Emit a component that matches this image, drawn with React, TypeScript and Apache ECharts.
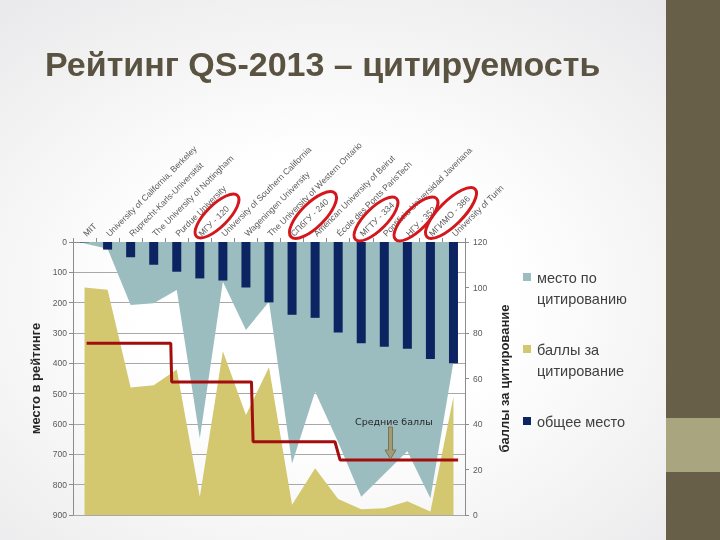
import React, { useEffect, useRef } from "react";
import * as echarts from "echarts";

const categories = [
  "MIT",
  "University of California, Berkeley",
  "Ruprecht-Karls-Universität",
  "The University of Nottingham",
  "Purdue University",
  "МГУ - 120",
  "University of Southern California",
  "Wageningen University",
  "The University of Western Ontario",
  "СПбГУ - 240",
  "American University of Beirut",
  "École des Ponts ParisTech",
  "МГТУ - 334",
  "Pontificia Universidad Javeriana",
  "НГУ - 352",
  "МГИМО - 386",
  "University of Turin",
];

// общее место (overall rank, left axis)
const overallRank = [1, 25, 50, 75, 98, 120, 127, 150, 199, 240, 250, 298, 334, 345, 352, 386, 400];
// место по цитированию (citation rank, left axis)
const citationRank = [5, 22, 208, 202, 158, 647, 131, 290, 197, 730, 494, 660, 840, 765, 690, 845, 395];
// баллы за цитирование (citation score, right axis)
const citationScore = [100, 99, 56, 57, 64, 8, 72, 44, 65, 4.5, 20.5, 7, 2.5, 3, 6, 1.5, 52];

// Средние баллы (hand-drawn step line: position in category units, value on right axis)
const avgX = [0.59, 4.24, 4.28, 7.74, 7.81, 11.36, 11.58, 16.7];
const avgY = [75.5, 75.5, 58.5, 58.5, 32.2, 32.2, 24.2, 24.2];

const leftTicks = { min: 0, max: 900, interval: 100 };
const rightTicks = { min: 0, max: 120, interval: 20 };

const COL_GRAY = "#9cbdc0";
const COL_YELLOW = "#d3c86f";
const COL_NAVY = "#0c2461";
const COL_RED = "#a30d0d";
const AXIS_COL = "#8c8c8c";
const LABEL_COL = "#595959";

export default function App() {
  const ref = useRef<HTMLDivElement>(null);

  useEffect(() => {
    if (!ref.current) return;
    const chart = echarts.init(ref.current, null, { renderer: "svg" });

    const ellipses = [
      { x: 217, y: 216, rx: 29, ry: 11 },
      { x: 313, y: 215, rx: 31, ry: 12 },
      { x: 376, y: 219, rx: 29, ry: 11 },
      { x: 416, y: 219, rx: 29, ry: 11 },
      { x: 451, y: 213, rx: 34, ry: 12 },
    ];

    const legendItems = [
      { name: "место по\nцитированию", color: COL_GRAY, y: 273 },
      { name: "баллы за\nцитирование", color: COL_YELLOW, y: 345 },
      { name: "общее место", color: COL_NAVY, y: 417 },
    ];

    const option: any = {
      animation: false,
      title: {
        text: "Рейтинг QS-2013 – цитируемость",
        left: 40,
        top: 42,
        textStyle: {
          fontFamily: "Liberation Sans",
          fontSize: 34,
          fontWeight: "bold",
          color: "#5a5341",
        },
      },
      grid: { left: 73, right: 255, top: 242, bottom: 25, containLabel: false },
      xAxis: [
        {
          type: "category",
          data: categories,
          position: "top",
          boundaryGap: true,
          axisLine: { show: true, onZero: false, lineStyle: { color: AXIS_COL, width: 1 } },
          axisTick: { show: true, length: 4, lineStyle: { color: AXIS_COL } },
          axisLabel: {
            rotate: -45,
            interval: 0,
            fontSize: 8.6,
            margin: 7,
            color: LABEL_COL,
            fontFamily: "Liberation Sans",
          },
          splitLine: { show: false },
        },
        { type: "value", min: 0, max: 17, show: false },
      ],
      yAxis: [
        {
          type: "value",
          inverse: true,
          position: "left",
          min: leftTicks.min,
          max: leftTicks.max,
          interval: leftTicks.interval,
          name: "место в рейтинге",
          nameLocation: "middle",
          nameRotate: 90,
          nameGap: 25,
          nameTextStyle: { fontFamily: "Liberation Sans", fontSize: 13, fontWeight: "bold", color: "#262626" },
          axisLine: { show: true, lineStyle: { color: AXIS_COL } },
          axisTick: { show: true, length: 4, lineStyle: { color: AXIS_COL } },
          axisLabel: { fontSize: 8.5, color: LABEL_COL, margin: 6, fontFamily: "Liberation Sans" },
          splitLine: { show: true, lineStyle: { color: "#a8a8a8", width: 1 } },
        },
        {
          type: "value",
          position: "right",
          min: rightTicks.min,
          max: rightTicks.max,
          interval: rightTicks.interval,
          name: "баллы за цитирование",
          nameLocation: "middle",
          nameRotate: 90,
          nameGap: 30,
          nameTextStyle: { fontFamily: "Liberation Sans", fontSize: 13, fontWeight: "bold", color: "#262626" },
          axisLine: { show: true, lineStyle: { color: AXIS_COL } },
          axisTick: { show: true, length: 4, lineStyle: { color: AXIS_COL } },
          axisLabel: { fontSize: 8.5, color: LABEL_COL, margin: 8, fontFamily: "Liberation Sans" },
          splitLine: { show: false },
        },
      ],
      series: [
        {
          name: "место по цитированию",
          type: "line",
          xAxisIndex: 0,
          yAxisIndex: 0,
          data: citationRank,
          symbol: "none",
          lineStyle: { width: 0 },
          areaStyle: { color: COL_GRAY, opacity: 1 },
          z: 1,
        },
        {
          name: "баллы за цитирование",
          type: "line",
          xAxisIndex: 0,
          yAxisIndex: 1,
          data: citationScore,
          symbol: "none",
          lineStyle: { width: 0 },
          areaStyle: { color: COL_YELLOW, opacity: 1 },
          z: 2,
        },
        {
          name: "общее место",
          type: "bar",
          xAxisIndex: 0,
          yAxisIndex: 0,
          data: overallRank,
          barWidth: 9,
          itemStyle: { color: COL_NAVY },
          z: 3,
        },
        {
          name: "Средние баллы",
          type: "line",
          xAxisIndex: 1,
          yAxisIndex: 1,
          data: avgX.map((x, i) => [x, avgY[i]]),
          symbol: "none",
          lineStyle: { color: COL_RED, width: 3 },
          z: 5,
        },
      ],
      graphic: [
        {
          type: "rect",
          z: -10,
          shape: { x: 666, y: 0, width: 54, height: 540 },
          style: { fill: "#675f47" },
        },
        {
          type: "rect",
          z: -9,
          shape: { x: 666, y: 418, width: 54, height: 54 },
          style: { fill: "#a9a67f" },
        },
        ...ellipses.map((e) => ({
          type: "ellipse",
          x: e.x,
          y: e.y,
          rotation: Math.PI / 4,
          z: 20,
          shape: { cx: 0, cy: 0, rx: e.rx, ry: e.ry },
          style: { fill: "none", stroke: "#d3171d", lineWidth: 3 },
        })),
        {
          type: "text",
          x: 355,
          y: 416,
          z: 20,
          style: {
            text: "Средние баллы",
            fontFamily: "DejaVu Sans",
            fontSize: 9.5,
            fill: "#262626",
          },
        },
        {
          type: "polygon",
          z: 20,
          shape: {
            points: [
              [388.5, 427],
              [392.5, 427],
              [392.5, 450],
              [396, 450],
              [390.5, 459],
              [385, 450],
              [388.5, 450],
            ],
          },
          style: { fill: "#a19c78", stroke: "#7a7553", lineWidth: 1 },
        },
        ...legendItems.flatMap((it) => [
          {
            type: "rect",
            z: 20,
            shape: { x: 523, y: it.y, width: 8, height: 8 },
            style: { fill: it.color },
          },
          {
            type: "text",
            x: 537,
            y: it.y - 6,
            z: 20,
            style: {
              text: it.name,
              fontFamily: "Liberation Sans",
              fontSize: 14.5,
              lineHeight: 21,
              fill: "#404040",
            },
          },
        ]),
      ],
    };

    chart.setOption(option);
    return () => chart.dispose();
  }, []);

  return (
    <div
      ref={ref}
      style={{
        position: "fixed",
        left: 0,
        top: 0,
        width: 720,
        height: 540,
        background: "radial-gradient(ellipse 75% 75% at 45% 55%, #ffffff 35%, #e7e7e9 100%)",
      }}
    />
  );
}
